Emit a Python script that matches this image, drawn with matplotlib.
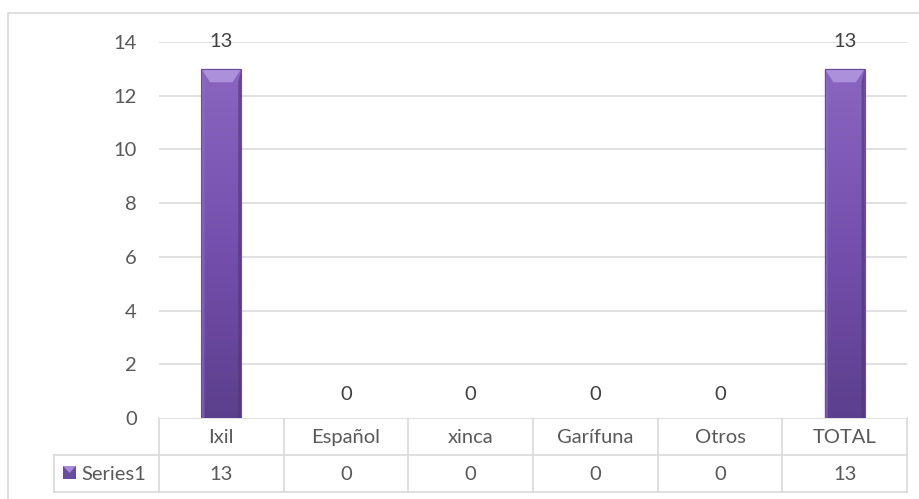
import matplotlib
matplotlib.use("Agg")
import matplotlib.pyplot as plt
import numpy as np
from matplotlib.colors import LinearSegmentedColormap
from matplotlib.patches import Polygon, Rectangle

categories = ["Ixil", "Español", "xinca", "Garífuna", "Otros", "TOTAL"]
values = [13, 0, 0, 0, 0, 13]
series_name = "Series1"
yticks = [0, 2, 4, 6, 8, 10, 12, 14]

W, H = 920, 499
plt.rcParams['font.family'] = ['Lato', 'DejaVu Sans']
txt_color = "#595959"
grid_color = "#d9d9d9"
fs = 14.5

fig = plt.figure(figsize=(W / 100, H / 100), dpi=100)

# overlay in pixel coords for frame and table
ov = fig.add_axes([0, 0, 1, 1])
ov.set_xlim(0, W)
ov.set_ylim(H, 0)
ov.axis("off")

# plot area
x0, x1 = 159, 907
ytop, ybot = 42, 418
ax = fig.add_axes([x0 / W, (H - ybot) / H, (x1 - x0) / W, (ybot - ytop) / H])
n = len(categories)
ax.set_xlim(-0.5, n - 0.5)
ax.set_ylim(0, 14)
for s in ax.spines.values():
    s.set_visible(False)
ax.set_xticks([])
ax.set_yticks(yticks)
ax.set_yticklabels([str(t) for t in yticks], fontsize=fs, color=txt_color)
ax.tick_params(axis="y", length=0, pad=16)
for t in yticks[1:]:
    ax.axhline(t, color=grid_color, lw=1.1, zorder=0)

# bars
bw = 0.32
bars = ax.bar(range(n), values, width=bw, color="#7a56b4", zorder=2, linewidth=0)
cmap = LinearSegmentedColormap.from_list("p", ["#5c3f8c", "#7550ae", "#8a66c0"])
grad = np.linspace(0, 1, 256).reshape(-1, 1)
for b, v in zip(bars, values):
    if v <= 0:
        continue
    bx, bwid, bh = b.get_x(), b.get_width(), b.get_height()
    im = ax.imshow(grad, cmap=cmap, origin="lower", aspect="auto",
                   extent=[bx, bx + bwid, 0, bh], zorder=3)
    im.set_clip_path(b)
    ex = bwid * 0.22
    ey = 0.5
    top = Polygon([[bx, bh], [bx + bwid, bh], [bx + bwid - ex, bh - ey], [bx + ex, bh - ey]],
                  closed=True, facecolor="#ad90dc", edgecolor="none", zorder=4)
    ax.add_patch(top)
    ls = Polygon([[bx, bh], [bx + ex * 0.35, bh - ey], [bx + ex * 0.35, 0], [bx, 0]],
                 closed=True, facecolor="#8f6fc4", edgecolor="none", alpha=0.6, zorder=4)
    ax.add_patch(ls)
    rs = Polygon([[bx + bwid, bh], [bx + bwid - ex * 0.35, bh - ey], [bx + bwid - ex * 0.35, 0], [bx + bwid, 0]],
                 closed=True, facecolor="#4e3578", edgecolor="none", alpha=0.6, zorder=4)
    ax.add_patch(rs)
    ax.add_patch(Rectangle((bx, 0), bwid, bh, fill=False, edgecolor="#6a4c9c", lw=0.8, zorder=5))

for i, v in enumerate(values):
    off = 27 if v > 0 else 23
    ax.annotate(str(v), (i, v), xytext=(0, off), textcoords="offset pixels",
                ha="center", va="center", fontsize=fs, color="#404040")

# outer chart border (cropped at right)
ov.plot([8, 8, W + 5], [H + 5, 13, 13], color=grid_color, lw=1.2)

# data table
r0, r1, r2 = 418, 455, 492
lx = 54
colw = (x1 - x0) / n
ov.plot([x0, x1], [r0, r0], color=grid_color, lw=1.2)
ov.plot([lx, x1], [r1, r1], color=grid_color, lw=1.2)
ov.plot([lx, x1], [r2, r2], color=grid_color, lw=1.2)
ov.plot([lx, lx], [r1, r2], color=grid_color, lw=1.2)
for k in range(n + 1):
    xx = x0 + k * colw
    ov.plot([xx, xx], [r0, r2], color=grid_color, lw=1.2)
for k, (c, v) in enumerate(zip(categories, values)):
    cx = x0 + (k + 0.5) * colw
    ov.text(cx, (r0 + r1) / 2 + 1, c, ha="center", va="center", fontsize=fs, color=txt_color)
    ov.text(cx, (r1 + r2) / 2 + 1, str(v), ha="center", va="center", fontsize=fs, color=txt_color)
# legend key
ov.add_patch(Rectangle((63, 466), 13, 13, facecolor="#6a4c9c", edgecolor="none"))
ov.add_patch(Polygon([[63, 466], [76, 466], [69.5, 473]], closed=True, facecolor="#a88ad8", edgecolor="none"))
ov.text(81, (r1 + r2) / 2 + 1, series_name, ha="left", va="center", fontsize=fs, color=txt_color)

fig.savefig("out.png", dpi=100)
